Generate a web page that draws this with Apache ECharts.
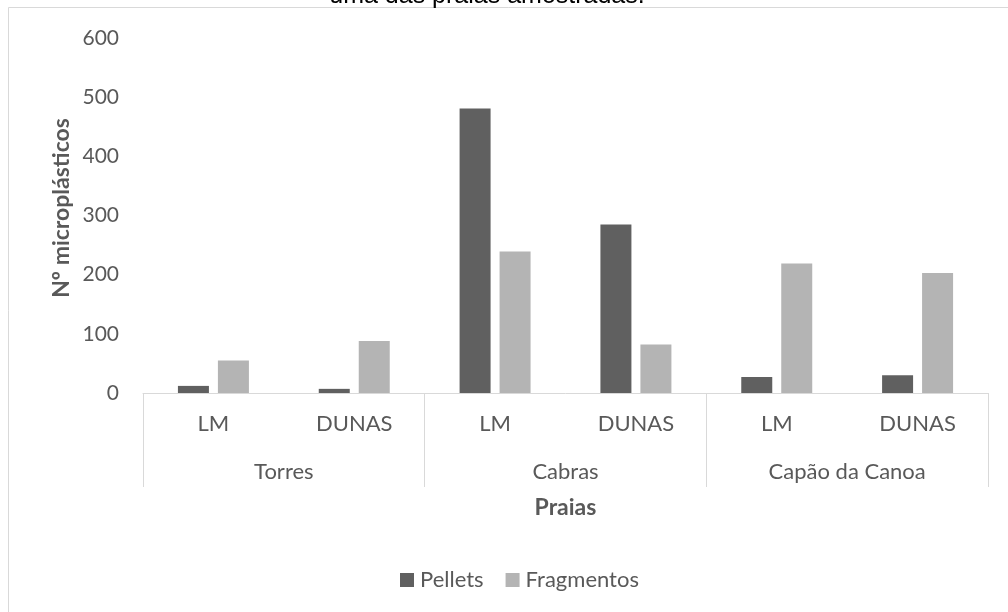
<!DOCTYPE html>
<html>
<head>
<meta charset="utf-8">
<script src="https://cdn.jsdelivr.net/npm/echarts@6/dist/echarts.min.js"></script>
<style>html,body{margin:0;padding:0;background:#fff;}#c{width:1008px;height:612px;}</style>
</head>
<body>
<div id="c"></div>
<script>
var subCategories = ['LM', 'DUNAS', 'LM', 'DUNAS', 'LM', 'DUNAS'];
var beaches = ['Torres', 'Cabras', 'Capão da Canoa'];
var pellets = [12, 7, 481, 285, 27, 30];
var fragmentos = [55, 88, 239, 82, 219, 203];
var yTicks = [0, 100, 200, 300, 400, 500, 600];

var FONT = 'Lato, "Open Sans", sans-serif';
var chart = echarts.init(document.getElementById('c'), null, {renderer: 'canvas'});
chart.setOption({
  animation: false,
  backgroundColor: '#fff',
  grid: {left: 143, right: 20, top: 38, bottom: 219},
  legend: {
    data: ['Pellets', 'Fragmentos'],
    left: 395, top: 564,
    icon: 'rect', itemWidth: 14, itemHeight: 14, itemGap: 22,
    textStyle: {color: '#595959', fontSize: 22, fontFamily: FONT, padding: [0, 0, 0, 1]}
  },
  xAxis: [{
    type: 'category', data: subCategories,
    axisLine: {lineStyle: {color: '#d9d9d9', width: 1}},
    axisTick: {show: false},
    axisLabel: {color: '#595959', fontSize: 22, fontFamily: FONT, margin: 20, interval: 0},
    name: 'Praias', nameLocation: 'middle', nameGap: 103,
    nameTextStyle: {color: '#595959', fontSize: 23, fontWeight: 'bold', fontFamily: FONT}
  }, {
    type: 'category', data: beaches, position: 'bottom',
    axisLine: {show: false},
    axisTick: {show: true, length: 94, interval: 0, lineStyle: {color: '#d9d9d9', width: 1}},
    axisLabel: {color: '#595959', fontSize: 22, fontFamily: FONT, margin: 68, interval: 0}
  }],
  yAxis: {
    type: 'value', min: yTicks[0], max: yTicks[yTicks.length - 1], interval: 100,
    axisLine: {show: false}, axisTick: {show: false}, splitLine: {show: false},
    axisLabel: {color: '#595959', fontSize: 21, fontFamily: FONT, margin: 24}
  },
  graphic: [
    {type: 'rect', z: -10, shape: {x: 8.5, y: 7.5, width: 1200, height: 800},
     style: {fill: 'none', stroke: '#d9d9d9', lineWidth: 1}},
    {type: 'text', x: 487, y: -4, style: {text: 'uma das praias amostradas.', fill: '#000',
      font: '25px "Liberation Sans", Arial, sans-serif', textAlign: 'center', textVerticalAlign: 'middle'}},
    {type: 'text', x: 62, y: 208, rotation: Math.PI / 2,
     style: {text: 'Nº microplásticos', fill: '#595959', font: 'bold 23px ' + FONT,
      textAlign: 'center', textVerticalAlign: 'middle'}}
  ],
  series: [{
    name: 'Pellets', type: 'bar', data: pellets, barWidth: 31, barGap: '29%',
    itemStyle: {color: '#606060'}
  }, {
    name: 'Fragmentos', type: 'bar', data: fragmentos, barWidth: 31,
    itemStyle: {color: '#b4b4b4'}
  }]
});
</script>
</body>
</html>
